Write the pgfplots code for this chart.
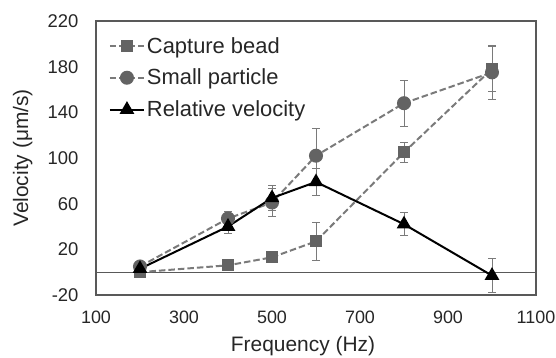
\documentclass[border=0pt]{standalone}
\usepackage{pgfplots}
\pgfplotsset{compat=1.18}
\usepackage{fontspec}
\setmainfont{Liberation Sans}
\definecolor{mk}{HTML}{636363}
\definecolor{ln}{HTML}{7A7A7A}
\definecolor{frm}{HTML}{595959}
\begin{document}
\begin{tikzpicture}
\useasboundingbox (-96bp,-63bp) rectangle (460bp,295bp);
\begin{axis}[
 scale only axis, width=440bp, height=274bp,
 xmin=100, xmax=1100, ymin=-20, ymax=220,
 xtick={100,300,...,1100}, ytick={-20,20,...,220},
 major tick length=0pt,
 axis line style={frm, line width=1.2bp},
 tick label style={text=black!85},
 xticklabel style={font=\fontsize{18}{21}\selectfont, yshift=-12bp},
 yticklabel style={font=\fontsize{18.5}{21}\selectfont, xshift=-14bp},
 /pgf/number format/assume math mode=true,
 /pgf/number format/1000 sep={},
 xlabel={Frequency (Hz)}, ylabel={Velocity (μm/s)},
 label style={font=\fontsize{21}{25}\selectfont, text=black!85},
 xlabel style={at={(axis description cs:0.4705,-0.208)}, anchor=base},
 ylabel style={at={(axis description cs:-0.1545,0.5)}, anchor=base},
 legend style={at={(axis description cs:0.029,0.949)}, anchor=north west, draw=none, fill=none,
   font=\fontsize{22}{26}\selectfont, text=black!85, row sep=10.5bp, inner sep=0pt,
   nodes={inner sep=2bp}},
 legend cell align=left,
 legend image code/.code={\draw[mark repeat=2,mark phase=2] plot coordinates {(0bp,0bp) (17bp,0bp) (34bp,0bp)};},
 error bars/y dir=both, error bars/y explicit,
 error bars/error bar style={solid, line width=0.8bp, ln},
 error bars/error mark options={solid, rotate=90, mark size=4bp, line width=0.8bp, ln},
]
\addplot[frm, line width=1.1bp, forget plot] coordinates {(100,0) (1100,0)};
\addplot[ln, line width=2bp, dash pattern=on 6.5bp off 3bp, mark=square*, mark size=5bp,
  mark options={solid, fill=mk, draw=mk}]
 coordinates {(200,0) +- (0,1) (400,6) +- (0,2) (500,13) +- (0,2) (600,27) +- (0,17) (800,105) +- (0,9) (1000,178) +- (0,20)};
\addlegendentry{Capture bead}
\addplot[ln, line width=2bp, dash pattern=on 6.5bp off 3bp, mark=*, mark size=6bp,
  mark options={solid, fill=mk, draw=mk}]
 coordinates {(200,5) +- (0,2) (400,47) +- (0,6) (500,61) +- (0,12) (600,102) +- (0,24) (800,148) +- (0,20) (1000,175) +- (0,24)};
\addlegendentry{Small particle}
\addplot[black, line width=2bp, mark=triangle*, mark size=6.5bp,
  mark options={solid, fill=black}]
 coordinates {(200,3) +- (0,2) (400,40) +- (0,6) (500,65) +- (0,11) (600,79) +- (0,12) (800,42) +- (0,10) (1000,-3) +- (0,15)};
\addlegendentry{Relative velocity}
\end{axis}
\end{tikzpicture}
\end{document}
